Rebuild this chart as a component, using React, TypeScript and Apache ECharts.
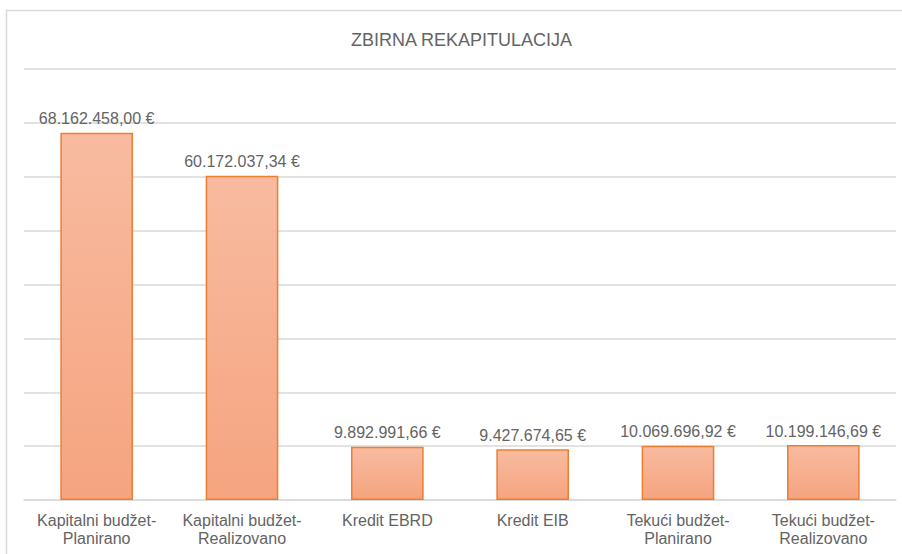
import React, { useEffect, useRef } from "react";
import * as echarts from "echarts";

const title = "ZBIRNA REKAPITULACIJA";
const categories = [
  "Kapitalni budžet-\nPlanirano",
  "Kapitalni budžet-\nRealizovano",
  "Kredit EBRD",
  "Kredit EIB",
  "Tekući budžet-\nPlanirano",
  "Tekući budžet-\nRealizovano",
];
const values = [68162458.0, 60172037.34, 9892991.66, 9427674.65, 10069696.92, 10199146.69];
const yMax = 80000000;
const yInterval = 10000000;

function formatEuro(v: number): string {
  const fixed = v.toFixed(2);
  const [intPart, dec] = fixed.split(".");
  const withDots = intPart.replace(/\B(?=(\d{3})+(?!\d))/g, ".");
  return withDots + "," + dec + " €";
}

export default function App() {
  const ref = useRef<HTMLDivElement>(null);
  useEffect(() => {
    if (!ref.current) return;
    const chart = echarts.init(ref.current, undefined, { renderer: "svg" });
    const font = "Arial, 'Liberation Sans', sans-serif";
    const textColor = "#646464";
    chart.setOption({
      animation: false,
      backgroundColor: "#ffffff",
      title: {
        text: title,
        left: 346,
        top: 26,
        textStyle: { color: textColor, fontSize: 18, fontWeight: "normal", fontFamily: font },
      },
      graphic: [
        {
          type: "rect",
          shape: { x: 6.5, y: 10.5, width: 1000, height: 1000 },
          style: { fill: "none", stroke: "#d9d9d9", lineWidth: 1.5 },
          silent: true,
        },
      ],
      grid: { left: 24, right: 6, top: 69, bottom: 54 },
      xAxis: {
        type: "category",
        data: categories,
        axisLine: { lineStyle: { color: "#d9d9d9", width: 1.5 } },
        axisTick: { show: false },
        axisLabel: {
          color: textColor,
          fontSize: 16,
          fontFamily: font,
          lineHeight: 18,
          margin: 11,
          interval: 0,
        },
      },
      yAxis: {
        type: "value",
        min: 0,
        max: yMax,
        interval: yInterval,
        axisLabel: { show: false },
        axisLine: { show: false },
        axisTick: { show: false },
        splitLine: { lineStyle: { color: "#d9d9d9", width: 1.5 } },
      },
      series: [
        {
          type: "bar",
          data: values,
          barWidth: "50%",
          itemStyle: {
            color: new echarts.graphic.LinearGradient(0, 0, 0, 1, [
              { offset: 0, color: "#f8bba0" },
              { offset: 1, color: "#f5a47f" },
            ]),
            borderColor: "#ed7d31",
            borderWidth: 1.5,
          },
          label: {
            show: true,
            position: "top",
            distance: 6,
            color: textColor,
            fontSize: 16,
            fontFamily: font,
            formatter: (p: any) => formatEuro(p.value),
          },
        },
      ],
    });
    return () => chart.dispose();
  }, []);
  return (
    <div
      ref={ref}
      style={{ position: "absolute", left: 0, top: 0, width: 902, height: 554 }}
    />
  );
}
